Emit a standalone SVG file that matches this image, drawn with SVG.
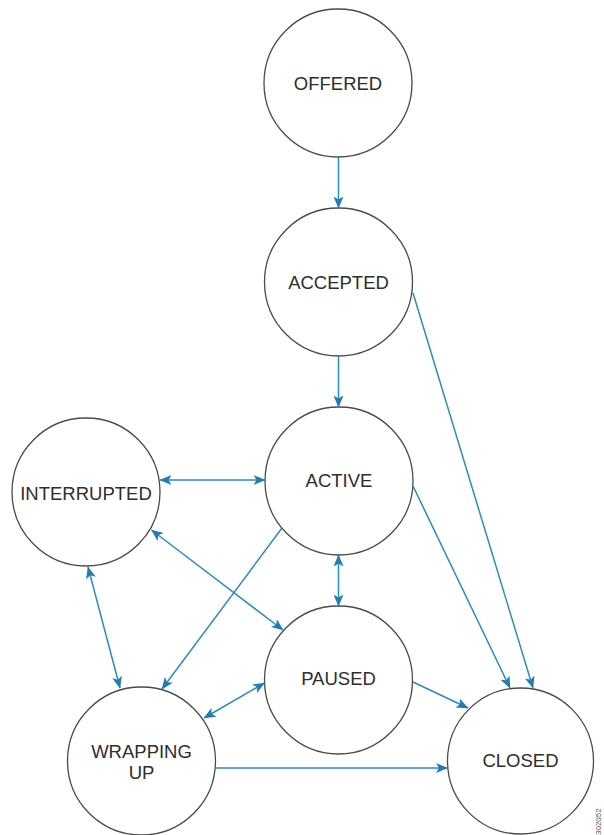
<svg xmlns="http://www.w3.org/2000/svg" width="604" height="835" viewBox="0 0 604 835">
<style>
.node circle{fill:#fff;stroke:#4a4a4a;stroke-width:1.3}
.node text{font-family:"Liberation Sans",Arial,sans-serif;font-size:18.5px;fill:#2e2e2e;text-anchor:middle;dominant-baseline:central}
.edges line{stroke:#2a8cc4;stroke-width:1.5;fill:none}
.one{marker-end:url(#ah)}
.two{marker-end:url(#ah);marker-start:url(#ah)}
</style>
<defs>
<marker id="ah" viewBox="0 0 12 10" refX="11.5" refY="5" markerWidth="12" markerHeight="10" markerUnits="userSpaceOnUse" orient="auto-start-reverse">
<path d="M0,0 L12,5 L0,10 L3,5 z" fill="#1f7db3"/>
</marker>
</defs>
<rect width="604" height="835" fill="#fff"/>
<g id="offered" class="node"><circle cx="338" cy="83" r="74"/><text x="338" y="83">OFFERED</text></g>
<g id="accepted" class="node"><circle cx="338.5" cy="282" r="74"/><text x="338.5" y="282">ACCEPTED</text></g>
<g id="active" class="node"><circle cx="339" cy="481" r="74"/><text x="339" y="480">ACTIVE</text></g>
<g id="interrupted" class="node"><circle cx="86" cy="492" r="74"/><text x="86" y="493">INTERRUPTED</text></g>
<g id="paused" class="node"><circle cx="338.5" cy="680" r="74"/><text x="338.5" y="678">PAUSED</text></g>
<g id="wrapping" class="node"><circle cx="141.5" cy="761" r="74"/><text x="141.5" y="751">WRAPPING</text><text x="141.5" y="772">UP</text></g>
<g id="closed" class="node"><circle cx="520.5" cy="761" r="73"/><text x="520.5" y="760">CLOSED</text></g>
<g id="connectors" class="edges">
<line class="one" x1="338.5" y1="157" x2="338.5" y2="208"/>
<line class="one" x1="338.5" y1="356" x2="338.5" y2="407"/>
<line class="one" x1="413" y1="293" x2="533" y2="688"/>
<line class="one" x1="413" y1="486" x2="510" y2="688"/>
<line class="two" x1="160" y1="480" x2="265" y2="480"/>
<line class="two" x1="151.5" y1="530" x2="283" y2="630"/>
<line class="one" x1="282" y1="528" x2="162" y2="689"/>
<line class="two" x1="88" y1="567" x2="120" y2="688"/>
<line class="two" x1="338.5" y1="555" x2="338.5" y2="606"/>
<line class="two" x1="204" y1="718" x2="264.5" y2="683"/>
<line class="one" x1="413" y1="682" x2="468" y2="708"/>
<line class="one" x1="216" y1="768" x2="447.5" y2="768"/>
</g>
<text x="0" y="0" transform="translate(601,835) rotate(-90)" font-family="Liberation Sans,Arial,sans-serif" font-size="8" fill="#555">302052</text>
</svg>
